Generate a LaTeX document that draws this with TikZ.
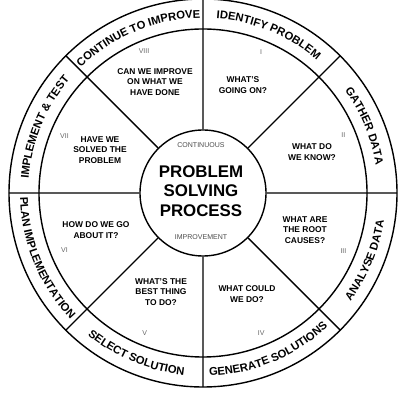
\documentclass[tikz,border=0pt]{standalone}
\usepackage{fontspec}
\setmainfont{Liberation Sans}
\usepackage{tikz}
\usetikzlibrary{decorations.text}
\newcommand{\ringfont}{\fontsize{8}{9}\selectfont\bfseries}
\tikzset{
  ask/.style={align=center,font=\fontsize{6}{7.6}\selectfont\bfseries},
  numeral/.style={font=\fontsize{5}{6}\selectfont,text=black!60},
  hubword/.style={font=\fontsize{5}{6}\selectfont,text=black!70},
  ringtext/.style={decorate,decoration={text along path,text align=center,
    text={|\ringfont|#1}}}
}
\begin{document}
\begin{tikzpicture}[line width=1pt]
\useasboundingbox (-5.075,-5.175) rectangle (4.925,4.825);
\draw (0,0) circle (4.85);
\draw (0,0) circle (4.1);
\node [circle,draw,minimum size=3.15cm,inner sep=0pt] (hub) at (0,0) {};
% spokes
\draw (hub.90) -- (90:4.85) (hub.45) -- (45:4.85) (hub.0) -- (0:4.85)
  (hub.-45) -- (-45:4.85) (hub.-90) -- (-90:4.85) (hub.-135) -- (-135:4.85)
  (hub.180) -- (180:4.85) (hub.135) -- (135:4.85);
% centre
\node [font=\fontsize{12}{14}\selectfont\bfseries,align=center] (title) at (-0.05,0.05)
  {PROBLEM\\SOLVING\\PROCESS};
\node [hubword] (cont) at (-0.05,1.2) {CONTINUOUS};
\node [hubword] (impr) at (-0.05,-1.1) {IMPROVEMENT};
% questions
\node [ask] (q1) at (1.0,2.7) {WHAT'S\\GOING ON?};
\node [ask] (q2) at (2.725,1.025) {WHAT DO\\WE KNOW?};
\node [ask] (q3) at (2.55,-0.925) {WHAT ARE\\THE ROOT\\CAUSES?};
\node [ask] (q4) at (1.1,-2.525) {WHAT COULD\\WE DO?};
\node [ask] (q5) at (-1.05,-2.475) {WHAT'S THE\\BEST THING\\TO DO?};
\node [ask] (q6) at (-2.675,-0.925) {HOW DO WE GO\\ABOUT IT?};
\node [ask] (q7) at (-2.575,1.075) {HAVE WE\\SOLVED THE\\PROBLEM};
\node [ask] (q8) at (-1.2,2.775) {CAN WE IMPROVE\\ON WHAT WE\\HAVE DONE};
% step numbers
\node [numeral] (n1) at (67.5:3.8) {I};
\node [numeral] (n2) at (22.5:3.8) {II};
\node [numeral] (n3) at (-22.5:3.8) {III};
\node [numeral] (n4) at (-67.5:3.8) {IV};
\node [numeral] (n5) at (-112.5:3.8) {V};
\node [numeral] (n6) at (-157.5:3.75) {VI};
\node [numeral] (n7) at (157.5:3.75) {VII};
\node [numeral] (n8) at (112.5:3.85) {VIII};
% ring
\path [ringtext={IDENTIFY PROBLEM}] (90:4.375) arc (90:45:4.375);
\path [ringtext={GATHER DATA}] (45:4.375) arc (45:0:4.375);
\path [ringtext={ANALYSE DATA}] (-45:4.575) arc (-45:0:4.575);
\path [ringtext={GENERATE SOLUTIONS}] (-90:4.575) arc (-90:-45:4.575);
\path [ringtext={SELECT SOLUTION}] (-135:4.575) arc (-135:-90:4.575);
\path [ringtext={PLAN IMPLEMENTATION}] (180:4.575) arc (180:225:4.575);
\path [ringtext={IMPLEMENT {\&} TEST}] (180:4.375) arc (180:135:4.375);
\path [ringtext={CONTINUE TO IMPROVE}] (135:4.375) arc (135:90:4.375);
\end{tikzpicture}
\end{document}
